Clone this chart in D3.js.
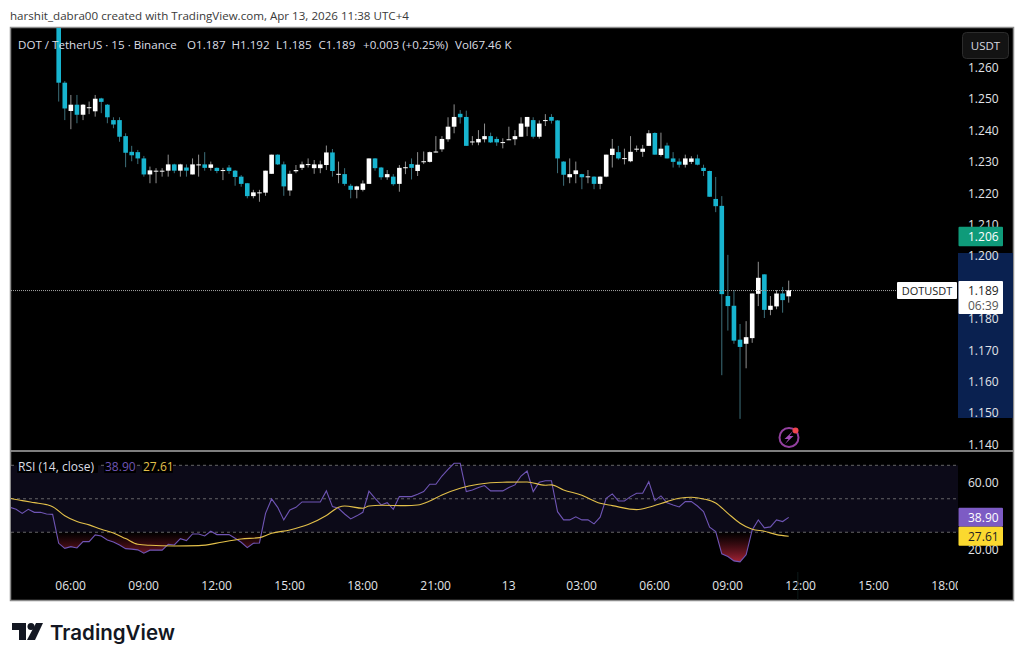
<!DOCTYPE html>
<html>
<head>
<meta charset="utf-8">
<title>DOT / TetherUS</title>
<script src="https://cdn.jsdelivr.net/npm/d3@7"></script>
<style>
  html, body { margin: 0; padding: 0; background: #fff; overflow: hidden; }
  svg { display: block; }
  text { font-family: "Open Sans", sans-serif; }
</style>
</head>
<body>
<svg id="my-canvas" width="1024" height="663"></svg>
<script>
// Candles, 15 minute bars, first one at 05:30 on Apr 12
const opens = [
  1.2750,1.2550,1.2460,1.2480,1.2448,1.2470,1.2459,1.2500,1.2480,1.2431,
  1.2431,1.2380,1.2330,1.2329,1.2309,1.2258,1.2268,1.2268,1.2270,1.2290,
  1.2270,1.2280,1.2258,1.2289,1.2290,1.2279,1.2279,1.2272,1.2280,1.2270,
  1.2251,1.2230,1.2189,1.2200,1.2200,1.2260,1.2321,1.2290,1.2207,1.2268,
  1.2279,1.2290,1.2278,1.2278,1.2288,1.2328,1.2260,1.2259,1.2222,1.2209,
  1.2209,1.2228,1.2309,1.2280,1.2249,1.2251,1.2228,1.2280,1.2291,1.2269,
  1.2299,1.2298,1.2330,1.2338,1.2370,1.2410,1.2451,1.2441,1.2362,1.2360,
  1.2370,1.2380,1.2371,1.2361,1.2370,1.2370,1.2378,1.2410,1.2431,1.2378,
  1.2430,1.2441,1.2430,1.2299,1.2249,1.2259,1.2259,1.2251,1.2251,1.2228,
  1.2251,1.2320,1.2329,1.2309,1.2300,1.2340,1.2330,1.2349,1.2390,1.2320,
  1.2350,1.2309,1.2299,1.2289,1.2298,1.2309,1.2279,1.2269,1.2180,1.2158,
  1.1871,1.1840,1.1732,1.1719,1.1737,1.1878,1.1940,1.1827,1.1838,1.1879,
  1.1870
];
const highs = [
  1.2800,1.2555,1.2511,1.2511,1.2482,1.2490,1.2511,1.2502,1.2482,1.2440,
  1.2440,1.2389,1.2349,1.2336,1.2317,1.2283,1.2278,1.2278,1.2321,1.2292,
  1.2292,1.2290,1.2309,1.2321,1.2329,1.2299,1.2280,1.2279,1.2288,1.2272,
  1.2256,1.2231,1.2209,1.2209,1.2270,1.2321,1.2322,1.2299,1.2270,1.2288,
  1.2299,1.2309,1.2304,1.2302,1.2350,1.2339,1.2299,1.2278,1.2228,1.2222,
  1.2239,1.2309,1.2310,1.2282,1.2272,1.2259,1.2288,1.2299,1.2309,1.2329,
  1.2331,1.2331,1.2380,1.2380,1.2440,1.2481,1.2463,1.2461,1.2380,1.2399,
  1.2420,1.2391,1.2378,1.2373,1.2410,1.2399,1.2440,1.2441,1.2440,1.2430,
  1.2450,1.2450,1.2431,1.2300,1.2309,1.2299,1.2260,1.2272,1.2252,1.2252,
  1.2321,1.2371,1.2349,1.2340,1.2380,1.2350,1.2352,1.2399,1.2392,1.2391,
  1.2359,1.2329,1.2309,1.2321,1.2316,1.2321,1.2289,1.2270,1.2250,1.2189,
  1.2002,1.1890,1.1782,1.1791,1.1879,1.1980,1.1940,1.1871,1.1890,1.1900,
  1.1920
];
const lows = [
  1.2490,1.2431,1.2402,1.2421,1.2431,1.2450,1.2442,1.2453,1.2421,1.2405,
  1.2362,1.2281,1.2300,1.2291,1.2251,1.2230,1.2230,1.2251,1.2251,1.2262,
  1.2251,1.2251,1.2258,1.2251,1.2270,1.2270,1.2262,1.2240,1.2260,1.2222,
  1.2219,1.2182,1.2182,1.2171,1.2190,1.2260,1.2288,1.2190,1.2190,1.2262,
  1.2272,1.2280,1.2260,1.2262,1.2272,1.2251,1.2230,1.2222,1.2182,1.2182,
  1.2204,1.2228,1.2270,1.2241,1.2241,1.2222,1.2203,1.2259,1.2242,1.2253,
  1.2291,1.2296,1.2328,1.2330,1.2362,1.2389,1.2420,1.2349,1.2351,1.2351,
  1.2360,1.2358,1.2349,1.2341,1.2368,1.2351,1.2378,1.2380,1.2372,1.2372,
  1.2412,1.2420,1.2262,1.2222,1.2230,1.2230,1.2211,1.2230,1.2211,1.2211,
  1.2249,1.2280,1.2305,1.2290,1.2297,1.2330,1.2314,1.2349,1.2321,1.2315,
  1.2309,1.2280,1.2280,1.2280,1.2291,1.2287,1.2253,1.2187,1.2138,1.1619,
  1.1761,1.1719,1.1480,1.1641,1.1722,1.1839,1.1801,1.1810,1.1829,1.1818,
  1.1850
];
const closes = [
  1.2550,1.2468,1.2480,1.2448,1.2480,1.2472,1.2499,1.2489,1.2440,1.2417,
  1.2378,1.2327,1.2319,1.2309,1.2258,1.2271,1.2270,1.2270,1.2290,1.2270,
  1.2290,1.2270,1.2290,1.2290,1.2279,1.2290,1.2269,1.2272,1.2269,1.2250,
  1.2228,1.2189,1.2201,1.2201,1.2270,1.2321,1.2290,1.2220,1.2260,1.2272,
  1.2290,1.2291,1.2290,1.2290,1.2328,1.2269,1.2260,1.2228,1.2209,1.2220,
  1.2229,1.2309,1.2278,1.2249,1.2259,1.2227,1.2279,1.2281,1.2279,1.2289,
  1.2300,1.2329,1.2331,1.2371,1.2410,1.2441,1.2440,1.2349,1.2363,1.2371,
  1.2380,1.2360,1.2360,1.2361,1.2370,1.2380,1.2420,1.2441,1.2378,1.2420,
  1.2431,1.2429,1.2309,1.2257,1.2259,1.2271,1.2249,1.2252,1.2228,1.2251,
  1.2321,1.2340,1.2309,1.2310,1.2330,1.2340,1.2340,1.2389,1.2321,1.2340,
  1.2309,1.2298,1.2289,1.2309,1.2309,1.2289,1.2269,1.2187,1.2157,1.1877,
  1.1839,1.1729,1.1709,1.1740,1.1879,1.1929,1.1827,1.1840,1.1879,1.1858,
  1.1890
];

// RSI starts eight bars before the first candle on screen
const rsiFirstBar = -8;
const rsiValues = [
  44.9,43.7,41.3,43.7,41.9,41.9,40.9,40.7,
  23.4,20.4,21.4,20.6,24.4,24.4,28.4,27.8,25.4,24.2,
  22.4,20.2,19.9,19.5,17.5,19.3,19.3,19.3,22.8,22.4,
  26.2,25.0,29.0,29.0,27.8,30.6,28.6,28.6,28.6,26.4,
  24.0,20.8,23.4,23.6,41.3,49.9,44.9,37.4,43.3,44.9,
  48.1,48.1,48.1,48.1,54.7,45.3,44.3,40.9,38.0,39.8,
  41.9,54.5,50.3,46.3,47.7,43.7,51.3,51.3,51.3,52.7,
  54.3,58.7,58.7,63.6,67.6,71.2,71.2,54.3,55.3,56.7,
  57.9,54.7,54.7,54.7,56.7,58.3,63.6,66.6,54.3,59.9,
  60.8,60.8,42.3,37.4,37.4,39.2,37.4,37.4,35.0,39.0,
  50.3,52.9,48.7,48.7,51.3,53.3,53.3,60.2,48.9,51.7,
  47.6,46.3,45.1,48.3,48.3,45.7,42.3,33.0,30.4,17.1,
  15.5,12.9,12.3,16.5,31.4,37.4,32.6,33.2,37.4,36.4,
  38.9
];

const maBars = [
  -8,-6,-4,-2,-1,1,3,5,7,9,11,13,15,19,23,27,30,33,35,38,41,44,46,47,50,51,53,57,59,
  61,63,66,69,73,77,80,81,83,86,89,91,95,97,100,102,104,106,108,110,112,114,116,118,120
];
const maValues = [
  50.3,48.9,47.7,46.5,45.3,39.9,36.4,34.4,31.8,29.6,26.2,22.8,22.2,21.8,22.0,24.2,26.0,26.8,29.4,31.4,34.6,40.0,44.9,45.7,44.3,45.7,46.1,45.9,46.3,
  48.7,52.3,56.3,58.7,59.9,60.0,58.1,58.3,55.3,52.1,47.3,45.9,43.5,44.9,48.3,50.3,50.9,49.9,47.5,41.3,35.4,31.8,30.6,28.6,27.61
];

const priceTicks = [1.26, 1.25, 1.24, 1.23, 1.22, 1.21, 1.20, 1.18, 1.17, 1.16, 1.15, 1.14];
const rsiTicks = [60, 20];
const rsiBands = [70, 50, 30];
const timeTicks = [
  "2026-04-12T06:00Z", "2026-04-12T09:00Z", "2026-04-12T12:00Z", "2026-04-12T15:00Z",
  "2026-04-12T18:00Z", "2026-04-12T21:00Z", "2026-04-13T00:00Z", "2026-04-13T03:00Z",
  "2026-04-13T06:00Z", "2026-04-13T09:00Z", "2026-04-13T12:00Z", "2026-04-13T15:00Z",
  "2026-04-13T18:00Z"
].map(d => new Date(d));

const headerText = "harshit_dabra00 created with TradingView.com, Apr 13, 2026 11:38 UTC+4";
const legendTitle = "DOT / TetherUS · 15 · Binance";
const legendItems = ["O1.187", "H1.192", "L1.185", "C1.189", "+0.003 (+0.25%)", "Vol67.46 K"];
const lastPrice = 1.189;
const preMarketPrice = 1.206;
const rsiLast = 38.90;
const maLast = 27.61;

const upColor = "#ffffff", downColor = "#17b4cf";
const upWick = "#8f8f8f", downWick = "#3d6f7a";
const axisText = "#e2e4e8";

const svg = d3.select("#my-canvas");
const barTime = i => new Date(Date.UTC(2026, 3, 12, 5, 30) + i * 15 * 60000);

// Scales
const x = d3.scaleTime().domain([barTime(0), barTime(120)]).range([58.7, 788.7]);
const y = d3.scaleLinear().domain([1.14, 1.26]).range([444, 67]);
const yRsi = d3.scaleLinear().domain([20, 70]).range([549, 465.3]);

// Chart frame
svg.append("rect").attr("x", 10.5).attr("y", 27.5).attr("width", 1003).attr("height", 573)
  .attr("fill", "#000").attr("stroke", "#8c8c8c").attr("stroke-width", 1.5);
svg.append("line").attr("x1", 11).attr("x2", 1013).attr("y1", 451).attr("y2", 451)
  .attr("stroke", "#a8a8a8").attr("stroke-width", 1.5);

const defs = svg.append("defs");
defs.append("clipPath").attr("id", "price-clip").append("rect")
  .attr("x", 11).attr("y", 28).attr("width", 947).attr("height", 422);
defs.append("clipPath").attr("id", "time-clip").append("rect")
  .attr("x", 11).attr("y", 570).attr("width", 947).attr("height", 30);
defs.append("clipPath").attr("id", "rsi-clip").append("rect")
  .attr("x", 11).attr("y", 452).attr("width", 947).attr("height", 118);
defs.append("clipPath").attr("id", "oversold-clip").append("rect")
  .attr("x", 11).attr("y", yRsi(30)).attr("width", 947).attr("height", 40);
const grad = defs.append("linearGradient").attr("id", "oversold-grad")
  .attr("gradientUnits", "userSpaceOnUse")
  .attr("x1", 0).attr("x2", 0).attr("y1", yRsi(30)).attr("y2", yRsi(12));
grad.append("stop").attr("offset", 0).attr("stop-color", "#7a1522").attr("stop-opacity", 0);
grad.append("stop").attr("offset", 1).attr("stop-color", "#b0263a").attr("stop-opacity", 0.95);

// Session highlight on the price scale
svg.append("rect").attr("x", 958).attr("y", 253).attr("width", 55).attr("height", 165).attr("fill", "#0a2150");

// Candles
const candles = svg.append("g").attr("clip-path", "url(#price-clip)");
const bars = d3.range(opens.length);
const barWidth = 4.6;
candles.append("g").selectAll("line").data(bars).join("line")
  .attr("x1", i => x(barTime(i))).attr("x2", i => x(barTime(i)))
  .attr("y1", i => y(highs[i])).attr("y2", i => y(lows[i]))
  .attr("stroke", i => closes[i] >= opens[i] ? upWick : downWick)
  .attr("stroke-width", 1);
candles.append("g").selectAll("rect").data(bars).join("rect")
  .attr("x", i => x(barTime(i)) - barWidth / 2)
  .attr("width", barWidth)
  .attr("y", i => y(Math.max(opens[i], closes[i])))
  .attr("height", i => Math.max(1, Math.abs(y(opens[i]) - y(closes[i]))))
  .attr("fill", i => closes[i] >= opens[i] ? upColor : downColor);

// Last price line
svg.append("line").attr("x1", 11).attr("x2", 897).attr("y1", y(lastPrice) + 0.5).attr("y2", y(lastPrice) + 0.5)
  .attr("stroke", "#a4a4a4").attr("stroke-width", 1).attr("stroke-dasharray", "1 1");

// Price axis
const priceAxis = svg.append("g").attr("transform", "translate(968,0.5)")
  .call(d3.axisRight(y).tickValues(priceTicks).tickFormat(d3.format(".3f")).tickSize(0).tickPadding(0));
priceAxis.select(".domain").remove();
priceAxis.selectAll("text").attr("fill", axisText).attr("font-size", 12).style("font-family", '"Open Sans", sans-serif');

// RSI panel
const rsi = svg.append("g").attr("clip-path", "url(#rsi-clip)");
rsi.append("rect").attr("x", 11).attr("width", 947)
  .attr("y", yRsi(70)).attr("height", yRsi(30) - yRsi(70)).attr("fill", "#0c0a18");
rsi.append("g").selectAll("line").data(rsiBands).join("line")
  .attr("x1", 11).attr("x2", 958).attr("y1", d => yRsi(d)).attr("y2", d => yRsi(d))
  .attr("stroke", "#7c7c7c").attr("stroke-width", 0.8).attr("stroke-dasharray", "3 3");

const rsiBarsIdx = rsiValues.map((d, i) => i + rsiFirstBar);
rsi.append("path")
  .attr("clip-path", "url(#oversold-clip)")
  .attr("fill", "url(#oversold-grad)")
  .attr("d", d3.area()
    .x(i => x(barTime(i)))
    .y0(yRsi(30))
    .y1(i => yRsi(rsiValues[i - rsiFirstBar]))(rsiBarsIdx));
rsi.append("path")
  .attr("fill", "none").attr("stroke", "#6f55b5").attr("stroke-width", 1.1)
  .attr("d", d3.line()
    .x(i => x(barTime(i)))
    .y(i => yRsi(rsiValues[i - rsiFirstBar]))(rsiBarsIdx));
rsi.append("path")
  .attr("fill", "none").attr("stroke", "#e3c04a").attr("stroke-width", 1.1)
  .attr("d", d3.line()
    .curve(d3.curveMonotoneX)
    .x(d => x(barTime(d)))
    .y((d, i) => yRsi(maValues[i]))(maBars));

const rsiAxis = svg.append("g").attr("transform", "translate(968,0.5)")
  .call(d3.axisRight(yRsi).tickValues(rsiTicks).tickFormat(d3.format(".2f")).tickSize(0).tickPadding(0));
rsiAxis.select(".domain").remove();
rsiAxis.selectAll("text").attr("fill", axisText).attr("font-size", 12).style("font-family", '"Open Sans", sans-serif');

// Time axis
const timeAxis = svg.append("g").attr("clip-path", "url(#time-clip)").append("g")
  .attr("transform", "translate(-0.7,581.5)")
  .call(d3.axisBottom(x).tickValues(timeTicks).tickSize(0).tickPadding(0)
    .tickFormat(d => d.getUTCHours() === 0 ? String(d.getUTCDate()) : d3.utcFormat("%H:%M")(d)));
timeAxis.select(".domain").remove();
timeAxis.selectAll("text").attr("fill", axisText).attr("font-size", 12).style("font-family", '"Open Sans", sans-serif');
svg.append("line").attr("x1", x(barTime(121.5))).attr("x2", x(barTime(121.5))).attr("y1", 572).attr("y2", 600)
  .attr("stroke", "#0d1a1a");

// Labels on the scales
function tag(px, py, w, h, fill, rx) {
  return svg.append("rect").attr("x", px).attr("y", py).attr("width", w).attr("height", h)
    .attr("fill", fill).attr("rx", rx || 1);
}
function label(str, px, py, fill, size, anchor) {
  return svg.append("text").attr("x", px).attr("y", py).attr("fill", fill)
    .attr("font-size", size).attr("text-anchor", anchor || "start")
    .attr("dominant-baseline", "central").text(str);
}
tag(958.5, y(preMarketPrice) - 10, 44.5, 19.5, "#0f9b7a");
label(d3.format(".3f")(preMarketPrice), 968, y(preMarketPrice), "#ffffff", 12);
tag(958.5, y(lastPrice) - 9, 44.5, 33, "#ffffff");
label(d3.format(".3f")(lastPrice), 968, y(lastPrice) + 0.5, "#222", 12);
label("06:39", 968, y(lastPrice) + 15, "#555", 12);
tag(897, 282, 60, 17, "#ffffff");
label("DOTUSDT", 927, 290.5, "#222", 11, "middle");
tag(958.5, yRsi(rsiLast) - 9.5, 44.5, 19, "#7d5bc4");
label(d3.format(".2f")(rsiLast), 968, yRsi(rsiLast), "#ffffff", 12);
tag(958.5, yRsi(maLast) - 9.5, 44.5, 19, "#fbd92f");
label(d3.format(".2f")(maLast), 968, yRsi(maLast), "#222", 12);

// Currency button
svg.append("rect").attr("x", 962.5).attr("y", 32.5).attr("width", 46).attr("height", 26).attr("rx", 4)
  .attr("fill", "#131313").attr("stroke", "#2c2c2c");
label("USDT", 985.5, 45.5, "#d8dae0", 11.5, "middle");

// Legend
label(headerText, 10, 15.5, "#3a3a3a", 11.6);
label(legendTitle, 18, 44, "#dcdee4", 11.6);
const legendX = [187, 231.5, 276, 318.5, 363, 455];
legendItems.forEach((d, i) => label(d, legendX[i], 44, "#dcdee4", 11.6));

// RSI legend sits on a black strip so the dashes stop behind it
const rsiLegend = [
  { text: "RSI (14, close)", at: 18, width: 81, color: "#dcdee4" },
  { text: d3.format(".2f")(rsiLast), at: 105, width: 32, color: "#6f55b5" },
  { text: d3.format(".2f")(maLast), at: 143, width: 31, color: "#e3c04a" }
];
rsiLegend.forEach(d => {
  tag(d.at - 1, 459, d.width, 14, "#000");
  label(d.text, d.at, 466.5, d.color, 12);
});

// Lightning badge
const badge = svg.append("g").attr("transform", "translate(789,437.5)");
badge.append("circle").attr("r", 9.5).attr("fill", "none").attr("stroke", "#93409f").attr("stroke-width", 2);
badge.append("path").attr("d", "M4,-6.5 L-4.5,1.5 L-0.5,1.5 L-4,6.5 L4.5,-1.5 L0.5,-1.5 Z").attr("fill", "#a24bb8");
badge.append("circle").attr("cx", 6.5).attr("cy", -7).attr("r", 3).attr("fill", "#f0444f");

// Footer logo
const logo = svg.append("g").attr("transform", "translate(12,623)").attr("fill", "#131722");
logo.append("path").attr("d", "M0,0 H14 V17 H7 V7 H0 Z");
logo.append("circle").attr("cx", 19).attr("cy", 3.5).attr("r", 3.5);
logo.append("path").attr("d", "M24,0 H31 L23,17 H15 Z");
svg.append("text").attr("x", 50).attr("y", 632).attr("fill", "#131722")
  .attr("dominant-baseline", "central").attr("font-size", 20.5).attr("font-weight", 600)
  .style("font-family", "Inter, sans-serif").text("TradingView");
</script>
</body>
</html>
